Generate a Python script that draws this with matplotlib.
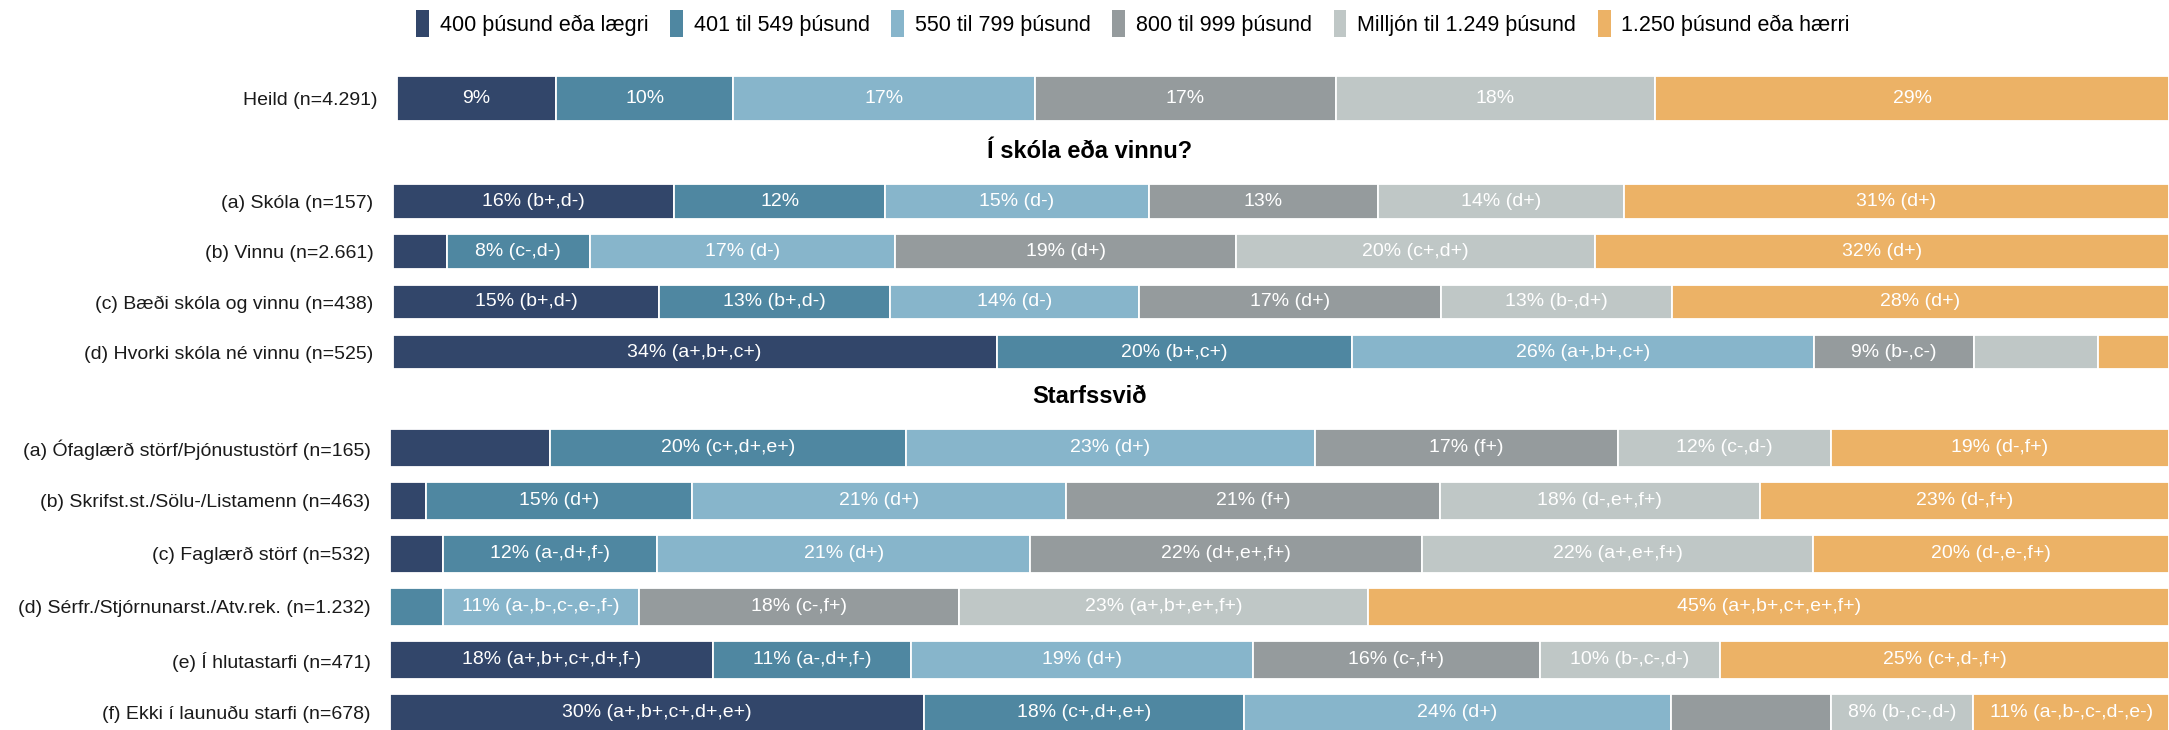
import numpy as np
import matplotlib
matplotlib.use('Agg')
import matplotlib.pyplot as plt
from matplotlib.patches import Patch

plt.rcParams['font.family'] = ['Liberation Sans', 'DejaVu Sans']

# income brackets, in stacking order
brackets = ['400 þúsund eða lægri', '401 til 549 þúsund', '550 til 799 þúsund',
            '800 til 999 þúsund', 'Milljón til 1.249 þúsund', '1.250 þúsund eða hærri']
colors = ['#32466a', '#4f87a1', '#87b5cb', '#959b9d', '#bfc7c6', '#ecb266']

total_rows = ['Heild (n=4.291)']
total_vals = [[9, 10, 17, 17, 18, 29]]
total_labels = [['9%', '10%', '17%', '17%', '18%', '29%']]

school_title = 'Í skóla eða vinnu?'
school_rows = ['(a) Skóla (n=157)', '(b) Vinnu (n=2.661)',
               '(c) Bæði skóla og vinnu (n=438)', '(d) Hvorki skóla né vinnu (n=525)']
school_vals = [[16, 12, 15, 13, 14, 31],
               [3, 8, 17, 19, 20, 32],
               [15, 13, 14, 17, 13, 28],
               [34, 20, 26, 9, 7, 4]]
school_labels = [['16% (b+,d-)', '12%', '15% (d-)', '13%', '14% (d+)', '31% (d+)'],
                 [None, '8% (c-,d-)', '17% (d-)', '19% (d+)', '20% (c+,d+)', '32% (d+)'],
                 ['15% (b+,d-)', '13% (b+,d-)', '14% (d-)', '17% (d+)', '13% (b-,d+)', '28% (d+)'],
                 ['34% (a+,b+,c+)', '20% (b+,c+)', '26% (a+,b+,c+)', '9% (b-,c-)', None, None]]

job_title = 'Starfssvið'
job_rows = ['(a) Ófaglærð störf/Þjónustustörf (n=165)', '(b) Skrifst.st./Sölu-/Listamenn (n=463)',
            '(c) Faglærð störf (n=532)', '(d) Sérfr./Stjórnunarst./Atv.rek. (n=1.232)',
            '(e) Í hlutastarfi (n=471)', '(f) Ekki í launuðu starfi (n=678)']
job_vals = [[9, 20, 23, 17, 12, 19],
            [2, 15, 21, 21, 18, 23],
            [3, 12, 21, 22, 22, 20],
            [0, 3, 11, 18, 23, 45],
            [18, 11, 19, 16, 10, 25],
            [30, 18, 24, 9, 8, 11]]
job_labels = [[None, '20% (c+,d+,e+)', '23% (d+)', '17% (f+)', '12% (c-,d-)', '19% (d-,f+)'],
              [None, '15% (d+)', '21% (d+)', '21% (f+)', '18% (d-,e+,f+)', '23% (d-,f+)'],
              [None, '12% (a-,d+,f-)', '21% (d+)', '22% (d+,e+,f+)', '22% (a+,e+,f+)', '20% (d-,e-,f+)'],
              [None, None, '11% (a-,b-,c-,e-,f-)', '18% (c-,f+)', '23% (a+,b+,e+,f+)', '45% (a+,b+,c+,e+,f+)'],
              ['18% (a+,b+,c+,d+,f-)', '11% (a-,d+,f-)', '19% (d+)', '16% (c-,f+)', '10% (b-,c-,d-)', '25% (c+,d-,f+)'],
              ['30% (a+,b+,c+,d+,e+)', '18% (c+,d+,e+)', '24% (d+)', None, '8% (b-,c-,d-)', '11% (a-,b-,c-,d-,e-)']]

W, H = 2169, 730
fig = plt.figure(figsize=(W / 100, H / 100), dpi=100)


def px_axes(left, top, bottom):
    # axes box given in pixels from the top-left corner
    return fig.add_axes([left / W, 1 - bottom / H, (W - left) / W, (bottom - top) / H])


def draw_block(ax, rows, vals, labels, height):
    n = len(rows)
    for i, (row, lab) in enumerate(zip(vals, labels)):
        row = np.array(row, dtype=float)
        widths = row / row.sum() * 100
        lefts = np.concatenate([[0], np.cumsum(widths)[:-1]])
        ax.barh(i, widths, left=lefts, height=height, color=colors,
                edgecolor='white', linewidth=1.3)
        for l, w, t in zip(lefts, widths, lab):
            if t:
                ax.text(l + w / 2, i, t, ha='center', va='center',
                        color='white', fontsize=14)
    ax.set_xlim(0, 100)
    ax.set_ylim(n - 0.5, -0.5)
    ax.set_yticks(range(n))
    ax.set_yticklabels(rows, fontsize=14, color='#1a1a1a')
    ax.tick_params(axis='y', length=0, pad=14)
    ax.set_xticks([])
    for s in ax.spines.values():
        s.set_visible(False)


ax0 = px_axes(396.7, 76, 120.7)
draw_block(ax0, total_rows, total_vals, total_labels, 1.0)

ax1 = px_axes(392.7, 176.4, 377.2)
draw_block(ax1, school_rows, school_vals, school_labels, 0.69)

ax2 = px_axes(390, 421.4, 739.1)
draw_block(ax2, job_rows, job_vals, job_labels, 0.716)

fig.text(1090 / W, 1 - 151.7 / H, school_title, ha='center', va='center',
         fontsize=17, fontweight='bold', color='black')
fig.text(1090 / W, 1 - 396.7 / H, job_title, ha='center', va='center',
         fontsize=17, fontweight='bold', color='black')

handles = [Patch(facecolor=c, edgecolor='none') for c in colors]
fig.legend(handles, brackets, loc='center', bbox_to_anchor=(1133 / W, 1 - 23.5 / H),
           ncol=6, frameon=False, fontsize=15.5, handlelength=0.6, handleheight=1.5,
           handletextpad=0.5, columnspacing=1.0)

fig.savefig('out.png', dpi=100)
